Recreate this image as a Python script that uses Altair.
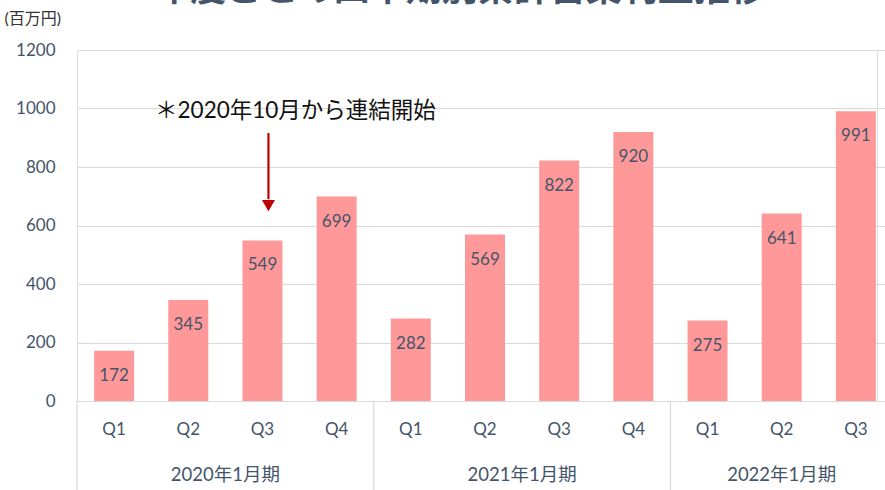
import altair as alt
import pandas as pd

# ---- data ----
periods = ["2020年1月期"] * 4 + ["2021年1月期"] * 4 + ["2022年1月期"] * 3
quarters = ["Q1", "Q2", "Q3", "Q4", "Q1", "Q2", "Q3", "Q4", "Q1", "Q2", "Q3"]
values = [172, 345, 549, 699, 282, 569, 822, 920, 275, 641, 991]
y_ticks = [0, 200, 400, 600, 800, 1000, 1200]

group_names = ["2020年1月期", "2021年1月期", "2022年1月期"]
group_first_q = ["Q1", "Q1", "Q1"]
group_center_q = ["Q2", "Q2", "Q2"]
group_size = [4, 4, 3]

title_text = "年度ごとの四半期別累計営業利益推移"
unit_text = "(百万円)"
note_text = "＊2020年10月から連結開始"
note_period, note_q = "2020年1月期", "Q3"
note_y = 990
arrow_top, arrow_bottom, arrow_head = 916, 690, 668

W, H = 800, 351
RANGE_END = 816
STEP = RANGE_END / len(values)

FONT = "Lato, 'Noto Sans CJK JP', sans-serif"
TXT = "#44546A"
GRID = "#D9D9D9"
BAR = "#FF9999"
RED = "#C00000"

keys = [f"{p}|{q}" for p, q in zip(periods, quarters)]
df = pd.DataFrame({"key": keys, "period": periods, "q": quarters, "value": values})

groups = pd.DataFrame({
    "name": group_names,
    "first": [f"{g}|{q}" for g, q in zip(group_names, group_first_q)],
    "center": [f"{g}|{q}" for g, q in zip(group_names, group_center_q)],
    "even": [s % 2 == 0 for s in group_size],
})

note_key = f"{note_period}|{note_q}"
note_df = pd.DataFrame({"key": [note_key], "text": [note_text], "y": [note_y],
                        "top": [arrow_top], "bottom": [arrow_bottom], "head": [arrow_head]})

xscale = alt.Scale(domain=keys, range=[0, RANGE_END], paddingInner=0, paddingOuter=0)
yscale = alt.Scale(domain=[0, 1200], nice=False)

x_enc = alt.X("key:N", scale=xscale, sort=keys,
              axis=alt.Axis(title=None, labelExpr="split(datum.label, '|')[1]",
                            labelAngle=0, labelFontSize=17, labelColor=TXT, labelFont=FONT,
                            ticks=False, tickSize=0, labelPadding=20,
                            domain=True, domainColor=GRID, domainWidth=1, grid=False))

bars = alt.Chart(df).mark_bar(color=BAR, size=40).encode(
    x=x_enc,
    y=alt.Y("value:Q", scale=yscale,
            axis=alt.Axis(values=y_ticks, format="d", title=unit_text, titleAngle=0, titleAlign="left",
                          titleBaseline="middle", titleX=-73, titleY=-32, titleFont=FONT,
                          titleFontSize=16, titleFontWeight="normal", titleColor="#333333",
                          labelFontSize=17, labelColor=TXT, labelFont=FONT, labelPadding=22,
                          domain=False, ticks=False, grid=True, gridColor=GRID, gridWidth=1)),
)

labels = alt.Chart(df).mark_text(baseline="middle", dy=25, fontSize=17, color=TXT, font=FONT).encode(
    x=alt.X("key:N", scale=xscale, sort=keys),
    y=alt.Y("value:Q", scale=yscale),
    text="value:Q",
)

seps = alt.Chart(groups).mark_rule(color=GRID, strokeWidth=1.2, xOffset=-STEP / 2).encode(
    x=alt.X("first:N", scale=xscale, sort=keys),
    y=alt.value(H),
    y2=alt.value(H + 100),
)

year_even = alt.Chart(groups).transform_filter("datum.even").mark_text(
    baseline="middle", fontSize=18.5, color=TXT, font=FONT, dx=STEP / 2).encode(
    x=alt.X("center:N", scale=xscale, sort=keys),
    y=alt.value(H + 74),
    text="name:N",
)
year_odd = alt.Chart(groups).transform_filter("!datum.even").mark_text(
    baseline="middle", fontSize=18.5, color=TXT, font=FONT).encode(
    x=alt.X("center:N", scale=xscale, sort=keys),
    y=alt.value(H + 74),
    text="name:N",
)

note = alt.Chart(note_df).mark_text(baseline="middle", align="center", fontSize=22.5,
                                    color="#111111", font=FONT, dx=33).encode(
    x=alt.X("key:N", scale=xscale, sort=keys),
    y=alt.Y("y:Q", scale=yscale),
    text="text:N",
)
arrow = alt.Chart(note_df).mark_rule(color=RED, strokeWidth=2.2, xOffset=6).encode(
    x=alt.X("key:N", scale=xscale, sort=keys),
    y=alt.Y("top:Q", scale=yscale),
    y2="bottom:Q",
)
head = alt.Chart(note_df).mark_point(shape="triangle-down", filled=True, color=RED, opacity=1,
                                     size=170, xOffset=6).encode(
    x=alt.X("key:N", scale=xscale, sort=keys),
    y=alt.Y("head:Q", scale=yscale),
)

title_df = pd.DataFrame({"t": [title_text]})
title = alt.Chart(title_df).mark_text(baseline="alphabetic", align="center", fontSize=36,
                                      fontWeight="bold", color=TXT, font=FONT).encode(
    x=alt.value(383), y=alt.value(-49), text="t:N")

chart = alt.layer(bars, labels, seps, year_even, year_odd, note, arrow, head, title).properties(
    width=W, height=H,
    autosize=alt.AutoSizeParams(type="none"),
    padding={"left": 77, "top": 50, "right": 8, "bottom": 89},
).configure_view(stroke=None).configure(background="white")

chart.save("out.html", embed_options={"renderer": "svg", "actions": False})
